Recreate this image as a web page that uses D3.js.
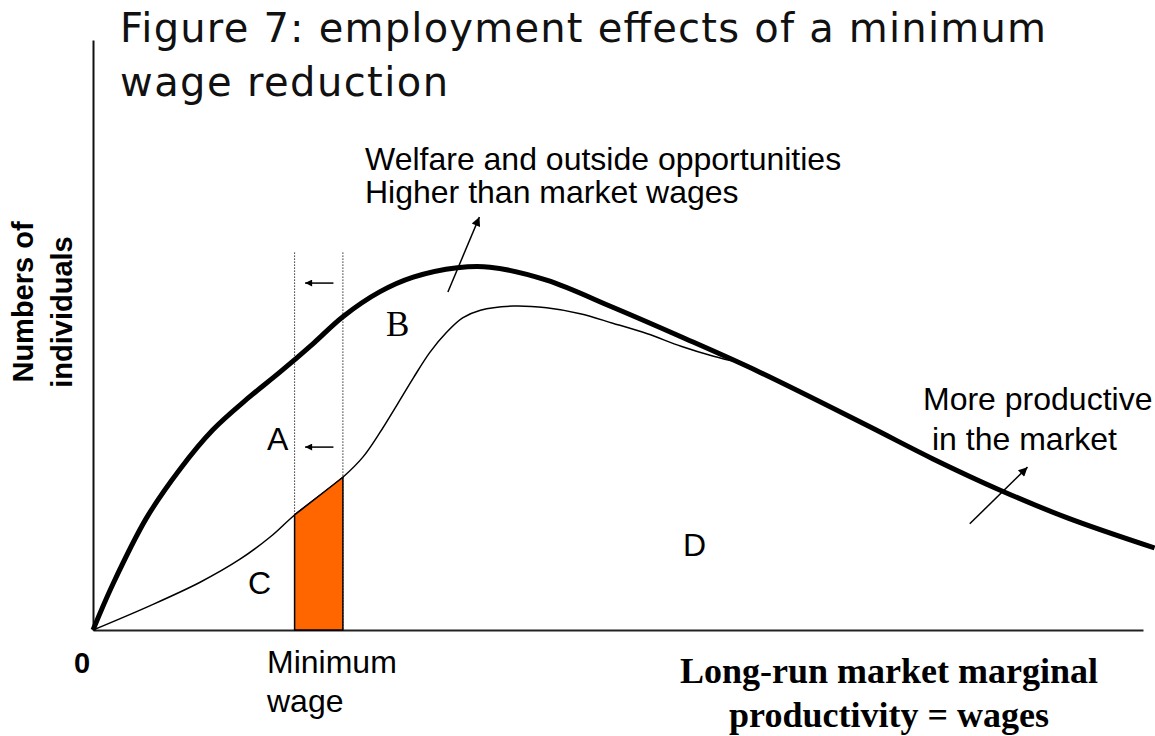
<!DOCTYPE html>
<html>
<head>
<meta charset="utf-8">
<script src="https://cdn.jsdelivr.net/npm/d3@7"></script>
<style>
  body { margin: 0; background: #fff; }
  svg { display: block; }
</style>
</head>
<body>
<script>
// Figure 7: employment effects of a minimum wage reduction.

// Bold curve: all individuals by productivity.
var allX = [0, 1.9, 5.1, 8.3, 11.4, 14.7, 17.8, 21.0, 23.8, 27.3, 30.5, 34.7, 37.8, 43.2, 49.5, 56.0, 63.5, 73.7, 80.0, 86.4, 92.8, 101.1];
var allY = [0, 7.8, 19.0, 27.3, 33.9, 39.2, 43.7, 48.6, 53.1, 57.3, 59.8, 61.4, 61.5, 59.3, 54.7, 49.7, 43.7, 34.7, 29.0, 23.7, 19.0, 13.9];

// Thin curve: individuals working in the market.
var workX = [0, 5.4, 10.2, 14.0, 16.9, 19.2, 23.8, 25.7, 27.3, 29.0, 30.5, 32.1, 33.7, 35.2, 36.9, 40.0, 43.2, 46.4, 49.5, 52.8, 56.0, 59.1, 61.6];
var workY = [0, 4.1, 8.1, 12.0, 15.8, 19.5, 25.9, 29.3, 33.4, 38.3, 42.7, 47.1, 50.5, 52.9, 54.2, 54.9, 54.6, 53.6, 52.0, 50.2, 48.1, 46.4, 45.3];

// Minimum wage before and after the reduction.
var oldMinWage = 23.8;
var newMinWage = 19.2;
var newMinTop = 19.5, oldMinTop = 25.9;

// Shift arrows (y levels) and pointer arrows [x1, y1, x2, y2].
var shiftLevels = [58.8, 31.0];
var pointers = [[33.8, 57.3, 36.8, 70.0], [83.5, 18.0, 89.0, 27.6]];

var regionNames = ["A", "B", "C", "D"];

var svg = d3.select("body").append("svg")
    .attr("width", 1155)
    .attr("height", 736);

var x = d3.scaleLinear().domain([0, 100]).range([93, 1143]);
var y = d3.scaleLinear().domain([0, 100]).range([630, 40]);

var defs = svg.append("defs");
defs.append("marker")
    .attr("id", "head")
    .attr("viewBox", "0 0 10 10")
    .attr("refX", 10).attr("refY", 5)
    .attr("markerUnits", "userSpaceOnUse")
    .attr("markerWidth", 13).attr("markerHeight", 9)
    .attr("orient", "auto")
  .append("path").attr("d", "M0,0L10,5L0,10z").attr("fill", "#000");
defs.append("marker")
    .attr("id", "small")
    .attr("viewBox", "0 0 10 10")
    .attr("refX", 10).attr("refY", 5)
    .attr("markerUnits", "userSpaceOnUse")
    .attr("markerWidth", 10).attr("markerHeight", 7)
    .attr("orient", "auto")
  .append("path").attr("d", "M0,0L10,5L0,10z").attr("fill", "#000");

// Axes, no ticks.
svg.append("g")
    .attr("transform", "translate(0," + y(0) + ")")
    .call(d3.axisBottom(x).tickValues([]).tickSizeOuter(0))
    .select(".domain").attr("stroke", "#222").attr("stroke-width", 2);
svg.append("g")
    .attr("transform", "translate(" + x(0) + ",0)")
    .call(d3.axisLeft(y).tickValues([]).tickSizeOuter(0))
    .select(".domain").attr("stroke", "#111").attr("stroke-width", 2);

// Dotted minimum wage lines.
svg.selectAll(".mw")
  .data([newMinWage, oldMinWage])
  .enter().append("line")
    .attr("class", "mw")
    .attr("x1", function(d) { return x(d); })
    .attr("x2", function(d) { return x(d); })
    .attr("y1", y(64))
    .attr("y2", y(0))
    .attr("stroke", "#333")
    .attr("stroke-width", 1)
    .attr("stroke-dasharray", "1.5,1.5");

var line = d3.line()
    .x(function(d) { return x(d[0]); })
    .y(function(d) { return y(d[1]); })
    .curve(d3.curveCatmullRom.alpha(0.5));

svg.append("path")
    .datum(workX.map(function(v, i) { return [v, workY[i]]; }))
    .attr("d", line)
    .attr("fill", "none")
    .attr("stroke", "#000")
    .attr("stroke-width", 1.5);

svg.append("path")
    .datum(allX.map(function(v, i) { return [v, allY[i]]; }))
    .attr("d", line)
    .attr("fill", "none")
    .attr("stroke", "#000")
    .attr("stroke-width", 5);

// Orange block: jobs created by the reduction.
svg.append("path")
    .attr("d", "M" + x(newMinWage) + "," + y(0) +
               "L" + x(newMinWage) + "," + y(newMinTop) +
               "L" + x(oldMinWage) + "," + y(oldMinTop) +
               "L" + x(oldMinWage) + "," + y(0) + "Z")
    .attr("fill", "#ff6600")
    .attr("stroke", "#000")
    .attr("stroke-width", 1.5);

// Left arrows between the dotted lines.
svg.selectAll(".shift")
  .data(shiftLevels)
  .enter().append("line")
    .attr("x1", x(22.9)).attr("x2", x(20.2))
    .attr("y1", function(d) { return y(d); })
    .attr("y2", function(d) { return y(d); })
    .attr("stroke", "#000")
    .attr("stroke-width", 1.5)
    .attr("marker-end", "url(#small)");

svg.selectAll(".pointer")
  .data(pointers)
  .enter().append("line")
    .attr("x1", function(d) { return x(d[0]); })
    .attr("y1", function(d) { return y(d[1]); })
    .attr("x2", function(d) { return x(d[2]); })
    .attr("y2", function(d) { return y(d[3]); })
    .attr("stroke", "#000")
    .attr("stroke-width", 1.5)
    .attr("marker-end", "url(#head)");

// Title.
var title = svg.append("g")
    .attr("font-family", "'DejaVu Sans', Verdana, sans-serif")
    .attr("font-size", 40)
    .attr("fill", "#111");
title.append("text").attr("x", 120).attr("y", 42)
    .attr("textLength", 926).attr("lengthAdjust", "spacing")
    .text("Figure 7: employment effects of a minimum");
title.append("text").attr("x", 120).attr("y", 96)
    .attr("textLength", 328).attr("lengthAdjust", "spacing")
    .text("wage reduction");

// Plain labels.
var sans = svg.append("g")
    .attr("font-family", "'Liberation Sans', Arial, sans-serif")
    .attr("font-size", 32)
    .attr("fill", "#000");
sans.append("text").attr("x", 365).attr("y", 170).text("Welfare and outside opportunities");
sans.append("text").attr("x", 365).attr("y", 203).text("Higher than market wages");
sans.append("text").attr("x", 923).attr("y", 410).text("More productive");
sans.append("text").attr("x", 932).attr("y", 450).text("in the market");
sans.append("text").attr("x", 267).attr("y", 673).text("Minimum");
sans.append("text").attr("x", 267).attr("y", 712).text("wage");
sans.append("text").attr("x", 267).attr("y", 450).text(regionNames[0]);
sans.append("text").attr("x", 248).attr("y", 594).text(regionNames[2]);
sans.append("text").attr("x", 683).attr("y", 556).text(regionNames[3]);

svg.append("text")
    .attr("x", 386).attr("y", 336)
    .attr("font-family", "'Liberation Serif', 'Times New Roman', serif")
    .attr("font-size", 35)
    .text(regionNames[1]);

svg.append("text")
    .attr("x", 74).attr("y", 673)
    .attr("font-family", "'Liberation Sans', Arial, sans-serif")
    .attr("font-size", 29)
    .attr("font-weight", "bold")
    .text("0");

// Axis titles.
var ylab = svg.append("g")
    .attr("font-family", "'Liberation Sans', Arial, sans-serif")
    .attr("font-size", 29)
    .attr("font-weight", "bold")
    .attr("text-anchor", "middle");
ylab.append("text").attr("transform", "translate(33,302) rotate(-90)").text("Numbers of");
ylab.append("text").attr("transform", "translate(72,312) rotate(-90)").text("individuals");

var xlab = svg.append("g")
    .attr("font-family", "'Liberation Serif', 'Times New Roman', serif")
    .attr("font-size", 36)
    .attr("font-weight", "bold")
    .attr("text-anchor", "middle");
xlab.append("text").attr("x", 889).attr("y", 683).text("Long-run market marginal");
xlab.append("text").attr("x", 889).attr("y", 727).text("productivity = wages");
</script>
</body>
</html>
